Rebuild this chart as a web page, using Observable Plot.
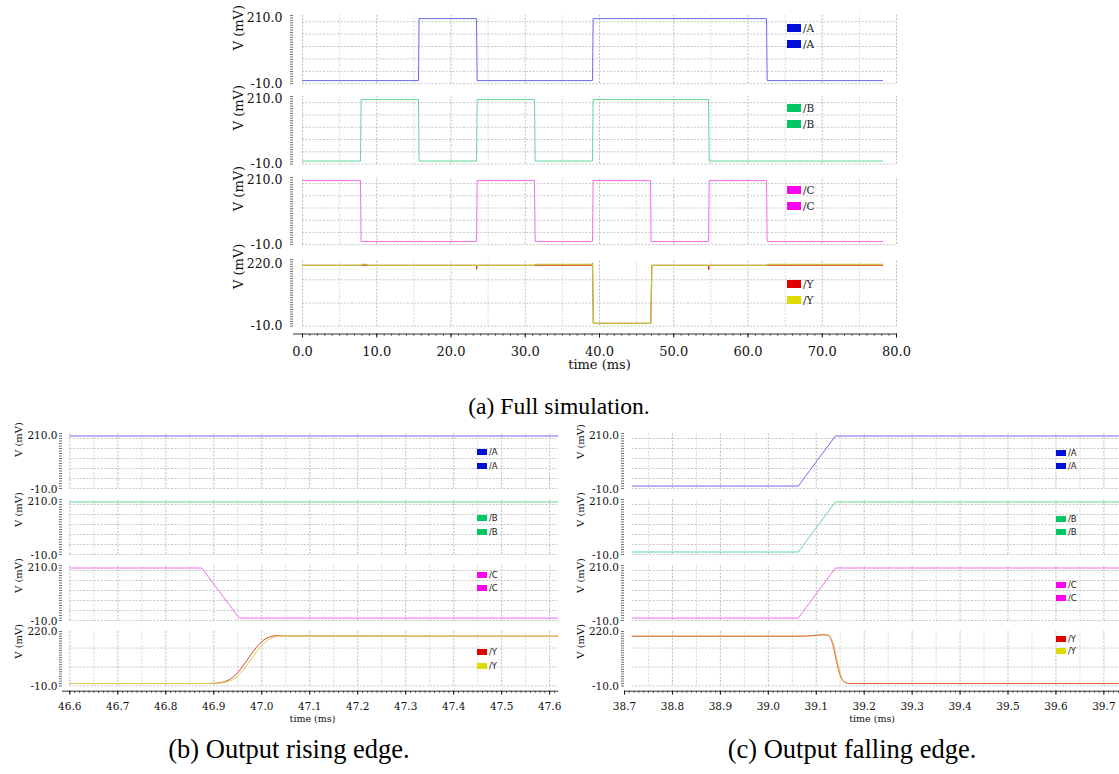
<!DOCTYPE html>
<html><head><meta charset="utf-8">
<script src="https://cdn.jsdelivr.net/npm/d3@7"></script>
<script src="https://cdn.jsdelivr.net/npm/@observablehq/plot@0.6"></script>
<style>
body{margin:0;background:#fff;}
#root{position:relative;width:1119px;height:774px;overflow:hidden;background:#fff;}
#root svg, #root svg text{font-family:"DejaVu Serif",serif;}
.leg{position:absolute;display:flex;align-items:center;white-space:nowrap;color:#222;}
.sw{display:inline-block;margin-right:2px;}
.cap{position:absolute;color:#000;white-space:nowrap;transform:translateX(-50%);line-height:1;font-family:"Liberation Serif",serif;}
</style></head><body><div id="root"></div><script>
// ================= DATA =================
// (a) Full simulation — time in ms, voltage in mV
const fullTimeTicks = [0, 10, 20, 30, 40, 50, 60, 70, 80];
const fullGridMinor = [5, 15, 25, 35, 45, 55, 65, 75];
const fullA_t = [0, 15.625, 15.70, 23.4375, 23.52, 39.0625, 39.14, 62.5, 62.58, 78.125];
const fullA_v = [0, 0, 200, 200, 0, 0, 200, 200, 0, 0];
const fullB_t = [0, 7.8125, 7.89, 15.625, 15.70, 23.4375, 23.52, 31.25, 31.33, 39.0625, 39.14, 54.6875, 54.77, 78.125];
const fullB_v = [0, 0, 200, 200, 0, 0, 200, 200, 0, 0, 200, 200, 0, 0];
const fullC_t = [0, 7.8125, 7.89, 23.4375, 23.52, 31.25, 31.33, 39.0625, 39.14, 46.875, 46.95, 54.6875, 54.77, 62.5, 62.58, 78.125];
const fullC_v = [200, 200, 0, 0, 200, 200, 0, 0, 200, 200, 0, 0, 200, 200, 0, 0];
const fullYred_t = [0, 23.40, 23.46, 23.52, 39.0625, 39.16, 46.90, 47.04, 54.66, 54.72, 54.80, 78.125];
const fullYred_v = [200, 200, 186, 200, 200, 0, 0, 200, 200, 184, 200, 200];
const fullYyel_t = [0, 7.9, 8.0, 8.7, 8.8, 31.2, 31.3, 39.0, 39.06, 39.18, 46.92, 47.06, 62.5, 62.6, 78.125];
const fullYyel_v = [200, 200, 203, 203, 200, 200, 203, 203, 208, 0, 0, 200, 200, 203, 203];

// (b) Output rising edge
const riseTimeTicks = [46.6, 46.7, 46.8, 46.9, 47.0, 47.1, 47.2, 47.3, 47.4, 47.5, 47.6];
const riseGridMinor = [46.65, 46.75, 46.85, 46.95, 47.05, 47.15, 47.25, 47.35, 47.45, 47.55];
const riseA_t = [46.6, 47.617];
const riseA_v = [200, 200];
const riseB_t = [46.6, 47.617];
const riseB_v = [200, 200];
const riseC_t = [46.6, 46.875, 46.953, 47.617];
const riseC_v = [200, 200, 0, 0];
const riseYred_t = [46.6, 46.88, 46.90, 46.915, 46.93, 46.945, 46.96, 46.975, 46.99, 47.005, 47.02, 47.035, 47.05, 47.617];
const riseYred_v = [0, 0, 1, 4, 14, 36, 72, 115, 156, 185, 199, 203, 201, 200];
const riseYyel_t = [46.6, 46.885, 46.905, 46.92, 46.935, 46.95, 46.965, 46.98, 46.995, 47.01, 47.025, 47.04, 47.06, 47.617];
const riseYyel_v = [0, 0, 1, 4, 12, 32, 66, 108, 150, 180, 196, 201, 200, 200];

// (c) Output falling edge
const fallTimeTicks = [38.7, 38.8, 38.9, 39.0, 39.1, 39.2, 39.3, 39.4, 39.5, 39.6, 39.7];
const fallGridMajor = [38.8, 38.9, 39.0, 39.1, 39.2, 39.3, 39.4, 39.5, 39.6, 39.7];
const fallGridMinor = [38.75, 38.85, 38.95, 39.05, 39.15, 39.25, 39.35, 39.45, 39.55, 39.65];
const fallA_t = [38.716, 39.0625, 39.14, 39.733];
const fallA_v = [0, 0, 200, 200];
const fallB_t = [38.716, 39.0625, 39.14, 39.733];
const fallB_v = [0, 0, 200, 200];
const fallC_t = [38.716, 39.0625, 39.14, 39.733];
const fallC_v = [0, 0, 200, 200];
const fallYred_t = [38.716, 39.06, 39.08, 39.10, 39.115, 39.125, 39.13, 39.135, 39.14, 39.145, 39.15, 39.155, 39.16, 39.165, 39.17, 39.733];
const fallYred_v = [200, 200, 201, 204, 206, 204, 190, 160, 112, 68, 32, 13, 4, 1, 0, 0];
const fallYyel_t = [38.716, 39.062, 39.082, 39.102, 39.117, 39.127, 39.132, 39.137, 39.142, 39.147, 39.152, 39.157, 39.162, 39.167, 39.172, 39.733];
const fallYyel_v = [200, 200, 201, 204, 206, 204, 190, 160, 112, 68, 32, 13, 4, 1, 0, 0];

// grids / y ticks
const gridABC = [-10, 30, 70, 110, 150, 190];
const gridY = [-10, 70, 150];
const domABC = [-10, 210];
const domY = [-10, 220];

// legends
const legNames = ["/A", "/A", "/B", "/B", "/C", "/C", "/Y", "/Y"];
const legColors = ["#0010d8", "#0010d8", "#00c864", "#00c864", "#ff00f0", "#ff00f0", "#e00000", "#dcdc00"];
const legTopY = [28, 44, 108, 124, 190, 206, 284, 300];
const legRiseY = [452, 466, 518, 532, 575, 588, 652, 666];
const legFallY = [453, 466, 519, 532, 585, 598, 639, 651];

const lineCol = {A: "#6a6aee", B: "#60d898", C: "#f46af4", R: "#e0442c", Yl: "#c2c23e", Yl2: "#d4d45a"};

// ================= DRAW =================
const SERIF = "DejaVu Serif";
const root = document.getElementById("root");
const fmt1 = d => d.toFixed(1);
const pts = (t, v) => t.map((d, i) => ({t: d, v: v[i]}));

function drawPanel(c) {
  const ML = 90, MT = 10;
  const svgLeft = c.rulerX - ML;
  const hasX = c.axisAt != null;
  const frameBottom = hasX ? c.axisAt : c.yRange[1];
  const svgTop = c.yRange[0] - MT;
  const width = Math.ceil(c.xRange[1] - svgLeft + 6);
  const MR = width - (c.xRange[1] - svgLeft);
  const height = Math.ceil(frameBottom - svgTop + (hasX ? 50 : 6));
  const MB = height - (frameBottom - svgTop);
  const marks = [
    Plot.ruleX(c.vMinor, {y1: c.yDomain[0], y2: c.yDomain[1], stroke: "#d8d8d8", strokeDasharray: "2,1.5"}),
    Plot.ruleX(c.vMajor, {y1: c.yDomain[0], y2: c.yDomain[1], stroke: "#bcbcbc", strokeDasharray: "2,1.5"}),
    Plot.ruleY(c.hGrid, {x1: c.gridX[0], x2: c.gridX[1], stroke: "#c6c6c6", strokeDasharray: "2,1.5"}),
    ...c.series.map(s => Plot.line(pts(s.t, s.v), {x: "t", y: "v", stroke: s.color, strokeWidth: s.width || 1, curve: s.curve || "linear", strokeOpacity: s.opacity || 1})),
    Plot.axisY({ticks: c.yRuler, tickSize: 3, fill: "none", stroke: "#333", strokeWidth: 0.7, label: null}),
    Plot.axisY({ticks: [c.yDomain[0]], tickSize: 0, tickPadding: c.yPad, tickFormat: fmt1, fontSize: c.yFont, fill: "#111", dy: c.botDy || 0, label: null}),
    Plot.axisY({ticks: [c.yDomain[1]], tickSize: 0, tickPadding: c.yPad, tickFormat: fmt1, fontSize: c.yFont, fill: "#111", dy: c.topDy || 0, label: null}),
    Plot.text(["V (mV)"], {frameAnchor: "left", rotate: -90, dx: c.vLab[0] - c.rulerX, dy: c.vLab[1] - (c.yRange[0] + frameBottom) / 2, fontSize: c.labFont, fontFamily: SERIF, fill: "#111"})
  ];
  if (hasX) {
    marks.push(
      Plot.frame({anchor: "bottom", stroke: "#333", strokeWidth: 1}),
      Plot.axisX({ticks: c.xMinorTicks, tickSize: 2.5, fill: "none", stroke: "#333", strokeWidth: 0.7, label: null}),
      Plot.axisX({ticks: c.xTicks, tickSize: 4, tickPadding: c.xPad, tickFormat: fmt1, fontSize: c.xFont, fill: "#111", label: null}),
      Plot.text(["time (ms)"], {frameAnchor: "bottom", dx: c.timeLab[0] - (c.rulerX + c.xRange[1]) / 2, dy: c.timeLab[1] - c.axisAt, fontSize: c.timeFont, fontFamily: SERIF, fill: "#111"})
    );
  }
  const xOpts = {domain: c.xDomain, insetLeft: c.xRange[0] - c.rulerX, label: null};
  if (!hasX) xOpts.axis = null;
  const p = Plot.plot({
    width, height, marginLeft: ML, marginRight: MR, marginTop: MT, marginBottom: MB,
    x: xOpts,
    y: {domain: c.yDomain, insetBottom: frameBottom - c.yRange[1], label: null},
    style: {fontFamily: SERIF, background: "transparent", overflow: "visible", color: "#111"},
    marks
  });
  p.style.position = "absolute";
  p.style.left = svgLeft + "px";
  p.style.top = svgTop + "px";
  p.style.maxWidth = "none";
  root.appendChild(p);
}

function legend(x, ys, sw, font, family) {
  ys.forEach((y, i) => {
    const d = document.createElement("div");
    d.className = "leg";
    d.style.left = x + "px";
    d.style.top = (y - sw[1] / 2) + "px";
    d.style.height = sw[1] + "px";
    d.style.fontSize = font + "px";
    d.style.fontFamily = family;
    const s = document.createElement("span");
    s.className = "sw";
    s.style.width = sw[0] + "px"; s.style.height = sw[1] + "px"; s.style.background = legColors[i];
    const t = document.createElement("span");
    t.textContent = legNames[i];
    d.appendChild(s); d.appendChild(t);
    root.appendChild(d);
  });
}

function caption(text, cx, cy, fs) {
  const d = document.createElement("div");
  d.className = "cap";
  d.textContent = text;
  d.style.fontSize = fs + "px";
  d.style.left = cx + "px";
  d.style.top = (cy - fs * 0.55) + "px";
  root.appendChild(d);
}

// ---- (a) ----
const topCommon = {
  xDomain: [0, 80], xRange: [302, 896], rulerX: 293, yPad: 11, yFont: 12.5, labFont: 13,
  gridX: [0, 80], vMajor: fullTimeTicks, vMinor: fullGridMinor, topDy: 2.5
};
const rulerABC_top = d3.range(-10, 210.01, 220 / 28);
const rulerY_top = d3.range(-10, 220.01, 230 / 28);
drawPanel({...topCommon, yDomain: domABC, yRange: [15.2, 83.4], hGrid: gridABC, yRuler: rulerABC_top, vLab: [238, 50],
  series: [{t: fullA_t, v: fullA_v, color: lineCol.A}]});
drawPanel({...topCommon, yDomain: domABC, yRange: [96.2, 163.8], hGrid: gridABC, yRuler: rulerABC_top, vLab: [238, 130],
  series: [{t: fullB_t, v: fullB_v, color: lineCol.B}]});
drawPanel({...topCommon, yDomain: domABC, yRange: [177.3, 244.4], hGrid: gridABC, yRuler: rulerABC_top, vLab: [238, 211],
  series: [{t: fullC_t, v: fullC_v, color: lineCol.C}]});
drawPanel({...topCommon, yDomain: domY, yRange: [258.5, 325.2], hGrid: gridY, yRuler: rulerY_top, vLab: [238, 288], topDy: 4,
  axisAt: 333, xTicks: fullTimeTicks, xMinorTicks: d3.range(0, 80.001, 1), xPad: 8.5, xFont: 13, timeLab: [599, 368], timeFont: 13,
  series: [{t: fullYred_t, v: fullYred_v, color: lineCol.R}, {t: fullYyel_t, v: fullYyel_v, color: lineCol.Yl, width: 1.3}]});
legend(787, legTopY, [14, 8], 10.5, SERIF);
caption("(a) Full simulation.", 559, 408, 23.6);

// ---- (b) ----
const rCommon = {
  xDomain: [46.6, 47.617], xRange: [69.3, 557.3], rulerX: 62, yPad: 5, yFont: 10.5, labFont: 10,
  gridX: [46.6, 47.617], vMajor: riseTimeTicks, vMinor: riseGridMinor, topDy: 2, botDy: 1
};
const rulerABC_bot = d3.range(-10, 210.01, 10);
const rulerY_bot = d3.range(-10, 220.01, 10);
drawPanel({...rCommon, yDomain: domABC, yRange: [432.5, 487.5], hGrid: gridABC, yRuler: rulerABC_bot, vLab: [18, 456],
  series: [{t: riseA_t, v: riseA_v, color: lineCol.A}]});
drawPanel({...rCommon, yDomain: domABC, yRange: [498.5, 553.5], hGrid: gridABC, yRuler: rulerABC_bot, vLab: [18, 526],
  series: [{t: riseB_t, v: riseB_v, color: lineCol.B}]});
drawPanel({...rCommon, yDomain: domABC, yRange: [564.5, 619.5], hGrid: gridABC, yRuler: rulerABC_bot, vLab: [18, 592],
  series: [{t: riseC_t, v: riseC_v, color: lineCol.C}]});
drawPanel({...rCommon, yDomain: domY, yRange: [631.3, 685.7], hGrid: gridY, yRuler: rulerY_bot, vLab: [18, 658.5], topDy: 0.5,
  axisAt: 691, xTicks: riseTimeTicks, xMinorTicks: d3.range(46.6, 47.6101, 0.01), xPad: 7, xFont: 10.5, timeLab: [312, 722], timeFont: 9.5,
  series: [{t: riseYred_t, v: riseYred_v, color: lineCol.R, curve: "monotone-x"}, {t: riseYyel_t, v: riseYyel_v, color: lineCol.Yl2, curve: "monotone-x"}]});
legend(477, legRiseY, [10, 6], 8.5, "DejaVu Sans");
caption("(b) Output rising edge.", 289, 751, 26.5);

// ---- (c) ----
const fCommon = {
  xDomain: [38.7, 39.733], xRange: [624.4, 1119.6], rulerX: 624.4, yPad: 5.5, yFont: 10.5, labFont: 10,
  gridX: [38.716, 39.733], vMajor: fallGridMajor, vMinor: fallGridMinor, topDy: 2, botDy: 1
};
drawPanel({...fCommon, yDomain: domABC, yRange: [432.5, 487.5], hGrid: gridABC, yRuler: rulerABC_bot, vLab: [581, 458],
  series: [{t: fallA_t, v: fallA_v, color: lineCol.A}]});
drawPanel({...fCommon, yDomain: domABC, yRange: [498.5, 553.5], hGrid: gridABC, yRuler: rulerABC_bot, vLab: [581, 526],
  series: [{t: fallB_t, v: fallB_v, color: lineCol.B}]});
drawPanel({...fCommon, yDomain: domABC, yRange: [564.5, 619.5], hGrid: gridABC, yRuler: rulerABC_bot, vLab: [581, 592],
  series: [{t: fallC_t, v: fallC_v, color: lineCol.C}]});
drawPanel({...fCommon, yDomain: domY, yRange: [631.3, 685.7], hGrid: gridY, yRuler: rulerY_bot, vLab: [581, 658.5], topDy: 0.5,
  axisAt: 691, xTicks: fallTimeTicks, xMinorTicks: d3.range(38.7, 39.7351, 0.01), xPad: 7, xFont: 10.5, timeLab: [872, 722], timeFont: 9.5,
  series: [{t: fallYyel_t, v: fallYyel_v, color: lineCol.Yl2, curve: "monotone-x"}, {t: fallYred_t, v: fallYred_v, color: lineCol.R, curve: "monotone-x", opacity: 0.8}]});
legend(1056, legFallY, [10, 6], 8.5, "DejaVu Sans");
caption("(c) Output falling edge.", 852, 751, 26.5);
</script></body></html>
